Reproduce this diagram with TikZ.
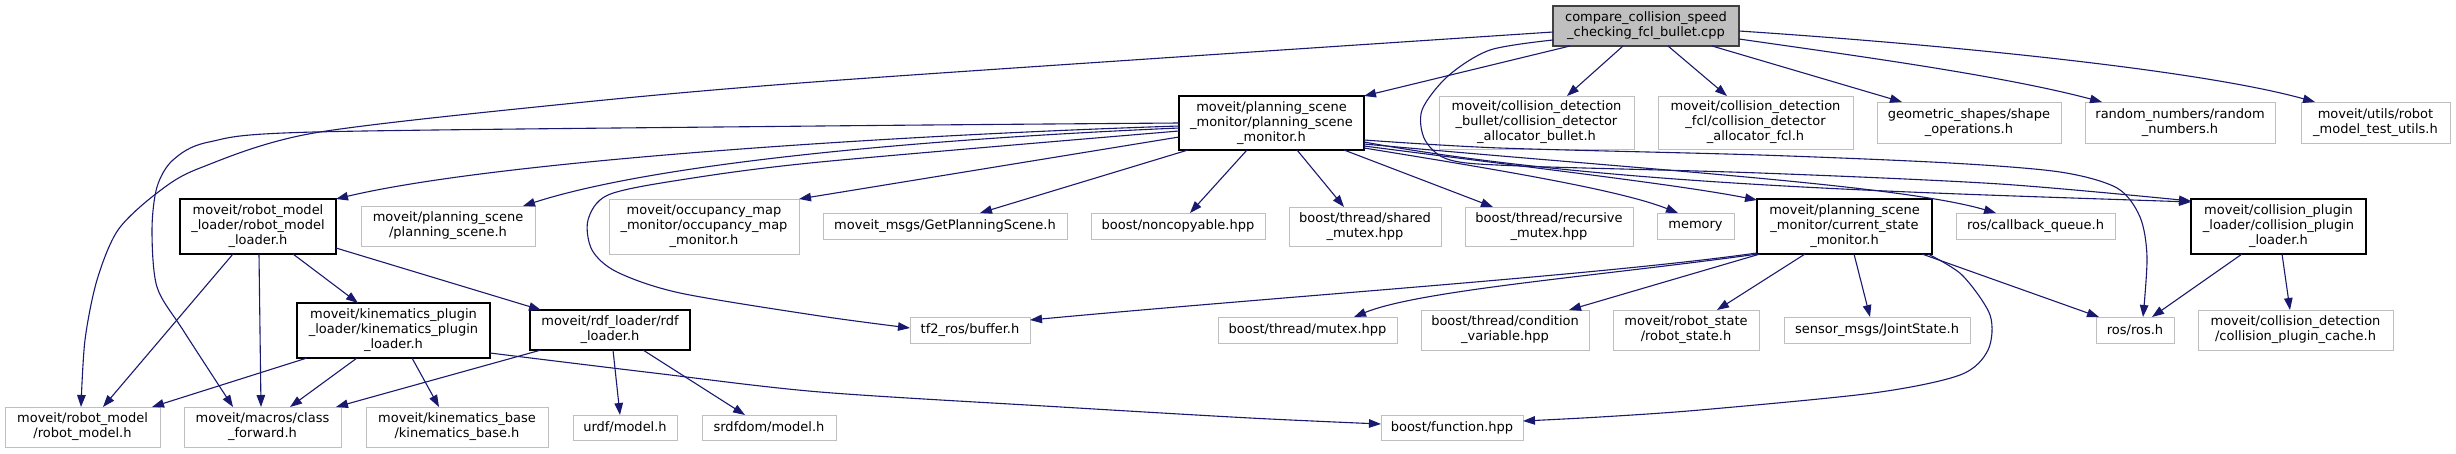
\documentclass[tikz,border=0pt]{standalone}
\usepackage{fontspec}
\setmainfont{DejaVu Sans}
\usetikzlibrary{arrows.meta}
\definecolor{edgecol}{HTML}{191970}
\definecolor{graybd}{HTML}{BFBFBF}
\definecolor{rootfill}{HTML}{BFBFBF}
\definecolor{rootbd}{HTML}{404040}
\tikzset{
 box/.style={draw=graybd, line width=1pt, anchor=north west, inner sep=0pt, outer sep=0pt, align=center, font=\fontsize{13}{15}\selectfont},
 docbox/.style={box, draw=black, line width=1.4pt},
 rootbox/.style={box, draw=rootbd, fill=rootfill, line width=1.4pt},
 edge/.style={draw=edgecol, line width=1.1pt, -{Triangle[length=12pt,width=8.5pt]}},
}
\begin{document}
\begin{tikzpicture}[x=1pt,y=-1pt]
\useasboundingbox (0,0) rectangle (2456,453);
\fill[white] (0,0) rectangle (2456,453);
% nodes
\node[rootbox, minimum width=186pt, minimum height=40pt] (root) at (1553,6) {compare\_collision\_speed\\\_checking\_fcl\_bullet.cpp};
\node[docbox, minimum width=185pt, minimum height=54pt] (psm) at (1179,96) {moveit/planning\_scene\\\_monitor/planning\_scene\\\_monitor.h};
\node[box, minimum width=195pt, minimum height=53pt] (bullet) at (1439,96) {moveit/collision\_detection\\\_bullet/collision\_detector\\\_allocator\_bullet.h};
\node[box, minimum width=195pt, minimum height=53pt] (fcl) at (1658,96) {moveit/collision\_detection\\\_fcl/collision\_detector\\\_allocator\_fcl.h};
\node[box, minimum width=184pt, minimum height=41pt] (geo) at (1877,102) {geometric\_shapes/shape\\\_operations.h};
\node[box, minimum width=190pt, minimum height=41pt] (rnd) at (2085,102) {random\_numbers/random\\\_numbers.h};
\node[box, minimum width=149pt, minimum height=41pt] (utils) at (2301,102) {moveit/utils/robot\\\_model\_test\_utils.h};
\node[docbox, minimum width=156pt, minimum height=55pt] (rml) at (180,199) {moveit/robot\_model\\\_loader/robot\_model\\\_loader.h};
\node[box, minimum width=174pt, minimum height=40pt] (ps) at (361,206) {moveit/planning\_scene\\/planning\_scene.h};
\node[box, minimum width=190pt, minimum height=55pt] (occ) at (609,199) {moveit/occupancy\_map\\\_monitor/occupancy\_map\\\_monitor.h};
\node[box, minimum width=244pt, minimum height=26pt] (gps) at (823,213) {moveit\_msgs/GetPlanningScene.h};
\node[box, minimum width=174pt, minimum height=26pt] (nc) at (1091,213) {boost/noncopyable.hpp};
\node[box, minimum width=152pt, minimum height=39pt] (sm) at (1289,207) {boost/thread/shared\\\_mutex.hpp};
\node[box, minimum width=168pt, minimum height=39pt] (rm) at (1465,207) {boost/thread/recursive\\\_mutex.hpp};
\node[box, minimum width=77pt, minimum height=26pt] (mem) at (1657,213) {memory};
\node[docbox, minimum width=175pt, minimum height=55pt] (csm) at (1757,199) {moveit/planning\_scene\\\_monitor/current\_state\\\_monitor.h};
\node[box, minimum width=159pt, minimum height=26pt] (cbq) at (1956,213) {ros/callback\_queue.h};
\node[docbox, minimum width=175pt, minimum height=55pt] (cpl) at (2191,199) {moveit/collision\_plugin\\\_loader/collision\_plugin\\\_loader.h};
\node[docbox, minimum width=193pt, minimum height=55pt] (kpl) at (297,303) {moveit/kinematics\_plugin\\\_loader/kinematics\_plugin\\\_loader.h};
\node[docbox, minimum width=160pt, minimum height=40pt] (rdf) at (530,310) {moveit/rdf\_loader/rdf\\\_loader.h};
\node[box, minimum width=120pt, minimum height=26pt] (tf2) at (910,317) {tf2\_ros/buffer.h};
\node[box, minimum width=179pt, minimum height=26pt] (mtx) at (1218,317) {boost/thread/mutex.hpp};
\node[box, minimum width=168pt, minimum height=40pt] (cv) at (1421,310) {boost/thread/condition\\\_variable.hpp};
\node[box, minimum width=146pt, minimum height=40pt] (rs) at (1613,310) {moveit/robot\_state\\/robot\_state.h};
\node[box, minimum width=186pt, minimum height=26pt] (js) at (1784,317) {sensor\_msgs/JointState.h};
\node[box, minimum width=78pt, minimum height=26pt] (ros) at (2096,317) {ros/ros.h};
\node[box, minimum width=195pt, minimum height=40pt] (cpc) at (2198,310) {moveit/collision\_detection\\/collision\_plugin\_cache.h};
\node[box, minimum width=155pt, minimum height=40pt] (rmh) at (5,407) {moveit/robot\_model\\/robot\_model.h};
\node[box, minimum width=157pt, minimum height=40pt] (cf) at (184,407) {moveit/macros/class\\\_forward.h};
\node[box, minimum width=182pt, minimum height=40pt] (kb) at (366,407) {moveit/kinematics\_base\\/kinematics\_base.h};
\node[box, minimum width=104pt, minimum height=25pt] (urdf) at (573,415) {urdf/model.h};
\node[box, minimum width=134pt, minimum height=25pt] (srdf) at (702,415) {srdfdom/model.h};
\node[box, minimum width=142pt, minimum height=25pt] (fn) at (1381,415) {boost/function.hpp};
% root edges
\draw[edge] ([shift={(17,40)}]root.north west) -- ([shift={(185,0)}]psm.north west);
\draw[edge] ([shift={(70,40)}]root.north west) -- ([shift={(128,0)}]bullet.north west);
\draw[edge] ([shift={(115,40)}]root.north west) -- ([shift={(69,0)}]fcl.north west);
\draw[edge] ([shift={(159,40)}]root.north west) -- ([shift={(25,0)}]geo.north west);
\draw[edge] ([shift={(186,33)}]root.north west) .. controls (1850,55) and (2000,75) .. ([shift={(17,0)}]rnd.north west);
\draw[edge] ([shift={(186,25)}]root.north west) .. controls (1950,45) and (2200,70) .. ([shift={(14,0)}]utils.north west);
\draw[edge] plot[smooth,tension=0.5] coordinates {([shift={(0,26)}]root.north west) (1177,57) (800,83) (575,103) (314,133) (200,168) (157,193) (118,230) (97,280) (85,340) ([shift={(76,0)}]rmh.north west)};
\draw[edge] plot[smooth,tension=0.5] coordinates {([shift={(0,34)}]root.north west) (1490,50) (1448,76) (1422,110) (1425,140) (1450,160) (1520,166) (1760,173) (2000,184) ([shift={(0,2)}]cpl.north west)};
% psm edges
\draw[edge] plot[smooth,tension=0.5] coordinates {([shift={(0,27)}]psm.north west) (820,126) (314,132) (209,142) (173,160) (157,187) (152,230) (157,287) (183,330) ([shift={(49,0)}]cf.north west)};
\draw[edge] ([shift={(0,30)}]psm.north west) .. controls (900,135) and (500,160) .. (rml.north east);
\draw[edge] ([shift={(0,32)}]psm.north west) .. controls (900,140) and (650,165) .. ([shift={(162,0)}]ps.north west);
\draw[edge] plot[smooth,tension=0.5] coordinates {([shift={(0,35)}]psm.north west) (820,162) (680,180) (608,195) (588,220) (592,250) (617,272) (680,293) (820,316) ([shift={(0,11)}]tf2.north west)};
\draw[edge] ([shift={(0,41)}]psm.north west) -- ([shift={(190,0)}]occ.north west);
\draw[edge] ([shift={(9,54)}]psm.north west) -- ([shift={(157,0)}]gps.north west);
\draw[edge] ([shift={(68,54)}]psm.north west) -- ([shift={(99,0)}]nc.north west);
\draw[edge] ([shift={(118,54)}]psm.north west) -- ([shift={(55,0)}]sm.north west);
\draw[edge] ([shift={(165,54)}]psm.north west) -- ([shift={(28,0)}]rm.north west);
\draw[edge] ([shift={(185,52)}]psm.north west) .. controls (1500,170) and (1620,190) .. ([shift={(21,0)}]mem.north west);
\draw[edge] ([shift={(185,50)}]psm.north west) .. controls (1550,170) and (1680,185) .. ([shift={(0,1)}]csm.north west);
\draw[edge] ([shift={(185,48)}]psm.north west) .. controls (1650,170) and (1900,185) .. ([shift={(40,0)}]cbq.north west);
\draw[edge] ([shift={(185,46)}]psm.north west) .. controls (1600,185) and (1900,192) .. ([shift={(0,3)}]cpl.north west);
\draw[edge] plot[smooth,tension=0.5] coordinates {([shift={(185,44)}]psm.north west) (1500,148) (1760,155) (1950,163) (2060,172) (2117,188) (2140,217) (2147,257) ([shift={(47,0)}]ros.north west)};
% csm edges
\draw[edge] ([shift={(0,54)}]csm.north west) .. controls (1600,275) and (1300,295) .. ([shift={(120,3)}]tf2.north west);
\draw[edge] ([shift={(1,55)}]csm.north west) .. controls (1600,276) and (1420,290) .. ([shift={(136,0)}]mtx.north west);
\draw[edge] ([shift={(3,55)}]csm.north west) -- ([shift={(148,0)}]cv.north west);
\draw[edge] ([shift={(48,55)}]csm.north west) -- ([shift={(104,0)}]rs.north west);
\draw[edge] ([shift={(97,55)}]csm.north west) -- ([shift={(86,0)}]js.north west);
\draw[edge] ([shift={(165,55)}]csm.north west) -- ([shift={(3,0)}]ros.north west);
\draw[edge] plot[smooth,tension=0.5] coordinates {([shift={(171,55)}]csm.north west) (1962,275) (1990,315) (1988,350) (1960,375) (1873,393) (1700,410) (1600,417) ([shift={(142,6)}]fn.north west)};
% rml edges
\draw[edge] ([shift={(53,55)}]rml.north west) -- ([shift={(98,0)}]rmh.north west);
\draw[edge] ([shift={(79,55)}]rml.north west) -- ([shift={(77,0)}]cf.north west);
\draw[edge] ([shift={(113,55)}]rml.north west) -- ([shift={(61,0)}]kpl.north west);
\draw[edge] ([shift={(156,49)}]rml.north west) -- ([shift={(11,0)}]rdf.north west);
% kpl edges
\draw[edge] ([shift={(10,55)}]kpl.north west) -- ([shift={(147,0)}]rmh.north west);
\draw[edge] ([shift={(60,55)}]kpl.north west) -- ([shift={(106,0)}]cf.north west);
\draw[edge] ([shift={(115,55)}]kpl.north west) -- ([shift={(73,0)}]kb.north west);
\draw[edge] plot[smooth,tension=0.5] coordinates {([shift={(193,50)}]kpl.north west) (654,373) (820,392) (1061,407) (1250,418) ([shift={(0,9)}]fn.north west)};
% rdf edges
\draw[edge] ([shift={(11,40)}]rdf.north west) -- ([shift={(152,0)}]cf.north west);
\draw[edge] ([shift={(83,40)}]rdf.north west) -- ([shift={(47,0)}]urdf.north west);
\draw[edge] ([shift={(113,40)}]rdf.north west) -- ([shift={(43,0)}]srdf.north west);
% cpl edges
\draw[edge] ([shift={(51,55)}]cpl.north west) -- ([shift={(56,0)}]ros.north west);
\draw[edge] ([shift={(91,55)}]cpl.north west) -- ([shift={(92,0)}]cpc.north west);
\end{tikzpicture}
\end{document}
